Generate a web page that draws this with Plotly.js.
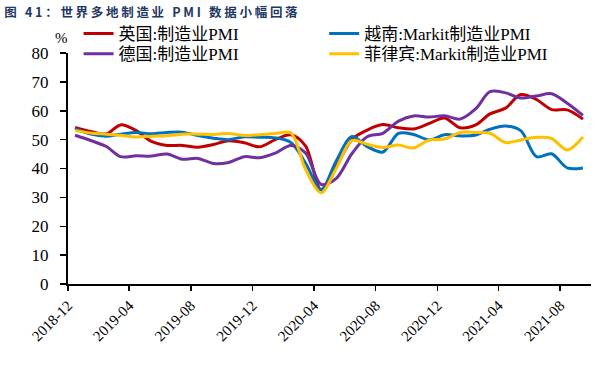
<!DOCTYPE html>
<html>
<head>
<meta charset="utf-8">
<script src="https://cdn.plot.ly/plotly-3.0.1.min.js"></script>
<style>html,body{margin:0;padding:0;background:#fff;}#chart{width:614px;height:369px;}</style>
</head>
<body>
<div id="chart"></div>
<script>
// Months (data plotted at mid-month)
const months = ['2018-12','2019-01','2019-02','2019-03','2019-04','2019-05','2019-06','2019-07','2019-08','2019-09','2019-10','2019-11',
  '2019-12','2020-01','2020-02','2020-03','2020-04','2020-05','2020-06','2020-07','2020-08','2020-09','2020-10','2020-11',
  '2020-12','2021-01','2021-02','2021-03','2021-04','2021-05','2021-06','2021-07','2021-08','2021-09'];
const uk          = [54.2,52.8,52.0,55.1,53.1,49.4,48.0,48.0,47.4,48.3,49.6,48.9,47.5,50.0,51.7,47.8,32.6,40.7,50.1,53.3,55.2,54.1,53.7,55.6,57.5,54.1,55.1,58.9,60.9,65.6,63.9,60.4,60.3,57.1];
const vietnam     = [53.8,51.9,51.2,51.9,52.5,52.0,52.5,52.6,51.4,50.5,50.0,51.0,50.8,50.6,49.0,41.9,32.7,42.7,51.1,47.6,45.7,52.2,51.8,49.9,51.7,51.3,51.6,53.6,54.7,53.1,44.1,45.1,40.2,40.2];
const germany     = [51.5,49.7,47.6,44.1,44.4,44.3,45.0,43.2,43.5,41.7,42.1,44.1,43.7,45.3,48.0,45.4,34.5,36.6,45.2,51.0,52.2,56.4,58.2,57.8,58.3,57.1,60.7,66.6,66.2,64.4,65.1,65.9,62.6,58.4];
const philippines = [53.2,52.3,51.9,51.5,50.9,51.2,51.3,51.9,51.9,51.8,52.1,51.4,51.7,52.1,52.3,39.7,31.6,40.1,49.7,48.4,47.3,48.1,47.1,49.9,50.2,52.5,52.5,52.2,49.0,49.9,50.8,50.4,46.4,50.9];
const seriesNames = ['英国:制造业PMI','越南:Markit制造业PMI','德国:制造业PMI','菲律宾:Markit制造业PMI'];
const tickLabels = ['2018-12','2019-04','2019-08','2019-12','2020-04','2020-08','2020-12','2021-04','2021-08'];
const titleText = '图 41：世界多地制造业 PMI 数据小幅回落';

const xs = months.map(m => m + '-15');
const colors = ['#C00000','#0070C0','#7030A0','#FFC000'];
const vals = [uk, vietnam, germany, philippines];
const legendIds = ['legend','legend2','legend3','legend4'];

const serif = 'Liberation Serif, Times New Roman, Noto Sans CJK SC, serif';

const traces = vals.map((v, i) => ({
  x: xs, y: v, name: seriesNames[i], type: 'scatter', mode: 'lines',
  legend: legendIds[i],
  line: {color: colors[i], width: 3, shape: 'spline', smoothing: 0.9},
  hoverinfo: 'skip'
}));

// legend placement (container fractions): two columns, two rows
const legX = [0.128, 0.528, 0.128, 0.528];
const legY = [0.957, 0.957, 0.902, 0.902];

const layout = {
  width: 614, height: 369,
  margin: {l: 68, r: 23, t: 53, b: 85, autoexpand: false},
  paper_bgcolor: '#fff', plot_bgcolor: '#fff',
  font: {family: serif, color: '#000'},
  showlegend: true,
  title: {
    text: '<span style="letter-spacing:2.7px">' + titleText + '</span>',
    x: 0.007, xanchor: 'left', xref: 'container',
    y: 0.967, yanchor: 'middle', yref: 'container',
    font: {family: 'Noto Sans CJK SC, Noto Sans, sans-serif', size: 12.5, color: '#1F3864', weight: 'bold'}
  },
  xaxis: {
    type: 'date',
    range: ['2018-12-01', '2021-10-01'],
    tickmode: 'array',
    tickvals: tickLabels.map(t => t + '-01'),
    ticktext: tickLabels,
    tickangle: -45,
    ticks: 'outside', ticklen: 5, tickwidth: 1.5, tickcolor: '#000',
    showline: true, linecolor: '#000', linewidth: 2,
    showgrid: false, zeroline: false,
    tickfont: {family: serif, size: 15, color: '#000'}
  },
  yaxis: {
    range: [0, 80], dtick: 10, tick0: 0,
    ticks: 'outside', ticklen: 6, tickwidth: 1.5, tickcolor: '#000',
    showline: true, linecolor: '#000', linewidth: 2,
    showgrid: false, zeroline: false,
    tickfont: {family: serif, size: 17, color: '#000'},
    ticklabelstandoff: 8
  },
  annotations: [{
    text: '%', xref: 'paper', yref: 'paper', x: -0.013, y: 1.065,
    xanchor: 'center', yanchor: 'middle', showarrow: false,
    font: {family: serif, size: 15, color: '#000'}
  }]
};
legendIds.forEach((id, i) => {
  layout[id] = {
    orientation: 'v', xref: 'container', yref: 'container',
    x: legX[i], y: legY[i], xanchor: 'left', yanchor: 'top',
    font: {family: serif, size: 17, color: '#000'},
    bgcolor: 'rgba(0,0,0,0)', itemwidth: 30, borderwidth: 0
  };
});

Plotly.newPlot('chart', traces, layout, {staticPlot: true, displayModeBar: false});
</script>
</body>
</html>
